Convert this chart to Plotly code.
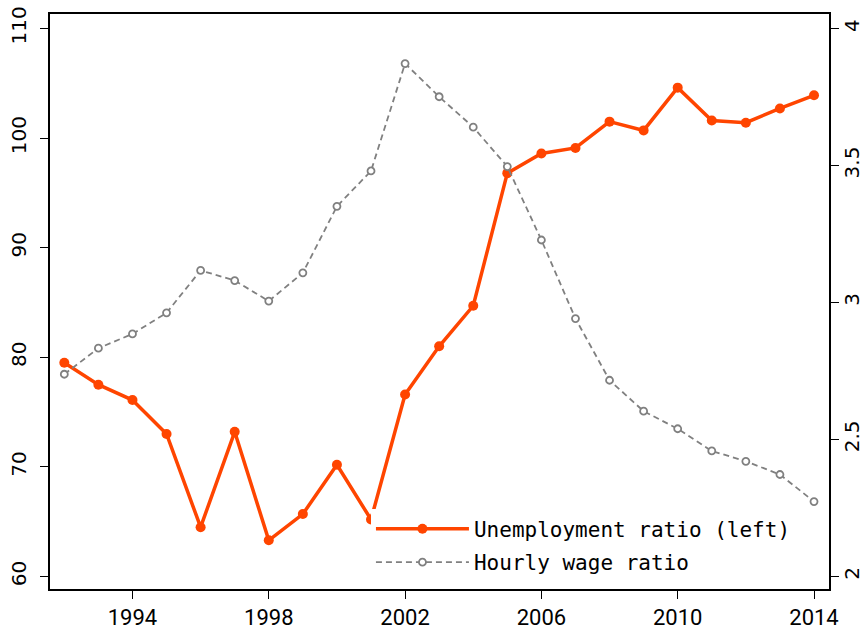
import plotly.graph_objects as go

years = list(range(1992, 2015))
unemployment_ratio = [79.5, 77.5, 76.1, 73.0, 64.5, 73.2, 63.3, 65.7, 70.2, 65.2,
                      76.6, 81.0, 84.7, 96.8, 98.6, 99.1, 101.5, 100.7, 104.6,
                      101.6, 101.4, 102.7, 103.9]
hourly_wage_ratio = [2.738, 2.833, 2.885, 2.962, 3.117, 3.080, 3.005, 3.108, 3.351,
                     3.480, 3.872, 3.751, 3.640, 3.496, 3.228, 2.941, 2.716, 2.603,
                     2.539, 2.458, 2.420, 2.372, 2.273]
x_ticks = [1994, 1998, 2002, 2006, 2010, 2014]
left_ticks = [60, 70, 80, 90, 100, 110]
right_ticks = [2, 2.5, 3, 3.5, 4]
right_labels = ["2", "2.5", "3", "3.5", "4"]

ORANGE = "#FF4500"
GRAY = "#808080"

fig = go.Figure()
fig.add_trace(go.Scatter(
    x=years, y=unemployment_ratio, name="Unemployment ratio (left)",
    mode="lines+markers", yaxis="y", legendgroup="a",
    line=dict(color=ORANGE, width=3.5),
    marker=dict(color=ORANGE, size=10, symbol="circle"),
))
fig.add_trace(go.Scatter(
    x=years, y=hourly_wage_ratio, name="Hourly wage ratio",
    mode="lines+markers", yaxis="y2", legendgroup="b",
    line=dict(color=GRAY, width=1.8, dash="6px,4px"),
    marker=dict(color="white", size=7, symbol="circle",
                line=dict(color=GRAY, width=1.8)),
))

axis_common = dict(showline=True, linecolor="black", linewidth=1.5,
                   ticks="outside", ticklen=8, tickwidth=1.2, tickcolor="black",
                   showgrid=False, zeroline=False)

fig.update_layout(
    width=864, height=630,
    margin=dict(l=50, r=35, t=14, b=41, autoexpand=False),
    paper_bgcolor="white", plot_bgcolor="white",
    showlegend=True,
    legend=dict(x=0.412, xanchor="left", y=0.011, yanchor="bottom",
                bgcolor="white", borderwidth=0,
                font=dict(family="DejaVu Sans Mono", size=21, color="black"),
                itemwidth=93, traceorder="grouped", tracegroupgap=3),
    xaxis=dict(range=[1991.58, 2014.44], tickvals=x_ticks, mirror=True,
               tickfont=dict(family="Roboto", size=22, color="black"),
               **axis_common),
    yaxis=dict(range=[58.86, 111.32], tickvals=left_ticks, tickangle=-90,
               tickfont=dict(family="DejaVu Sans", size=20, color="black"),
               ticklabelstandoff=6,
               **axis_common),
    yaxis2=dict(range=[1.954, 4.053], tickvals=right_ticks, ticktext=right_labels,
                overlaying="y", side="right", tickangle=-90,
                tickfont=dict(family="DejaVu Sans", size=20, color="black"),
                ticklabelstandoff=-4,
                **axis_common),
)

fig.write_html("out.html", config={"displayModeBar": False},
               post_script="document.body.style.margin='0';document.body.style.padding='0';")
